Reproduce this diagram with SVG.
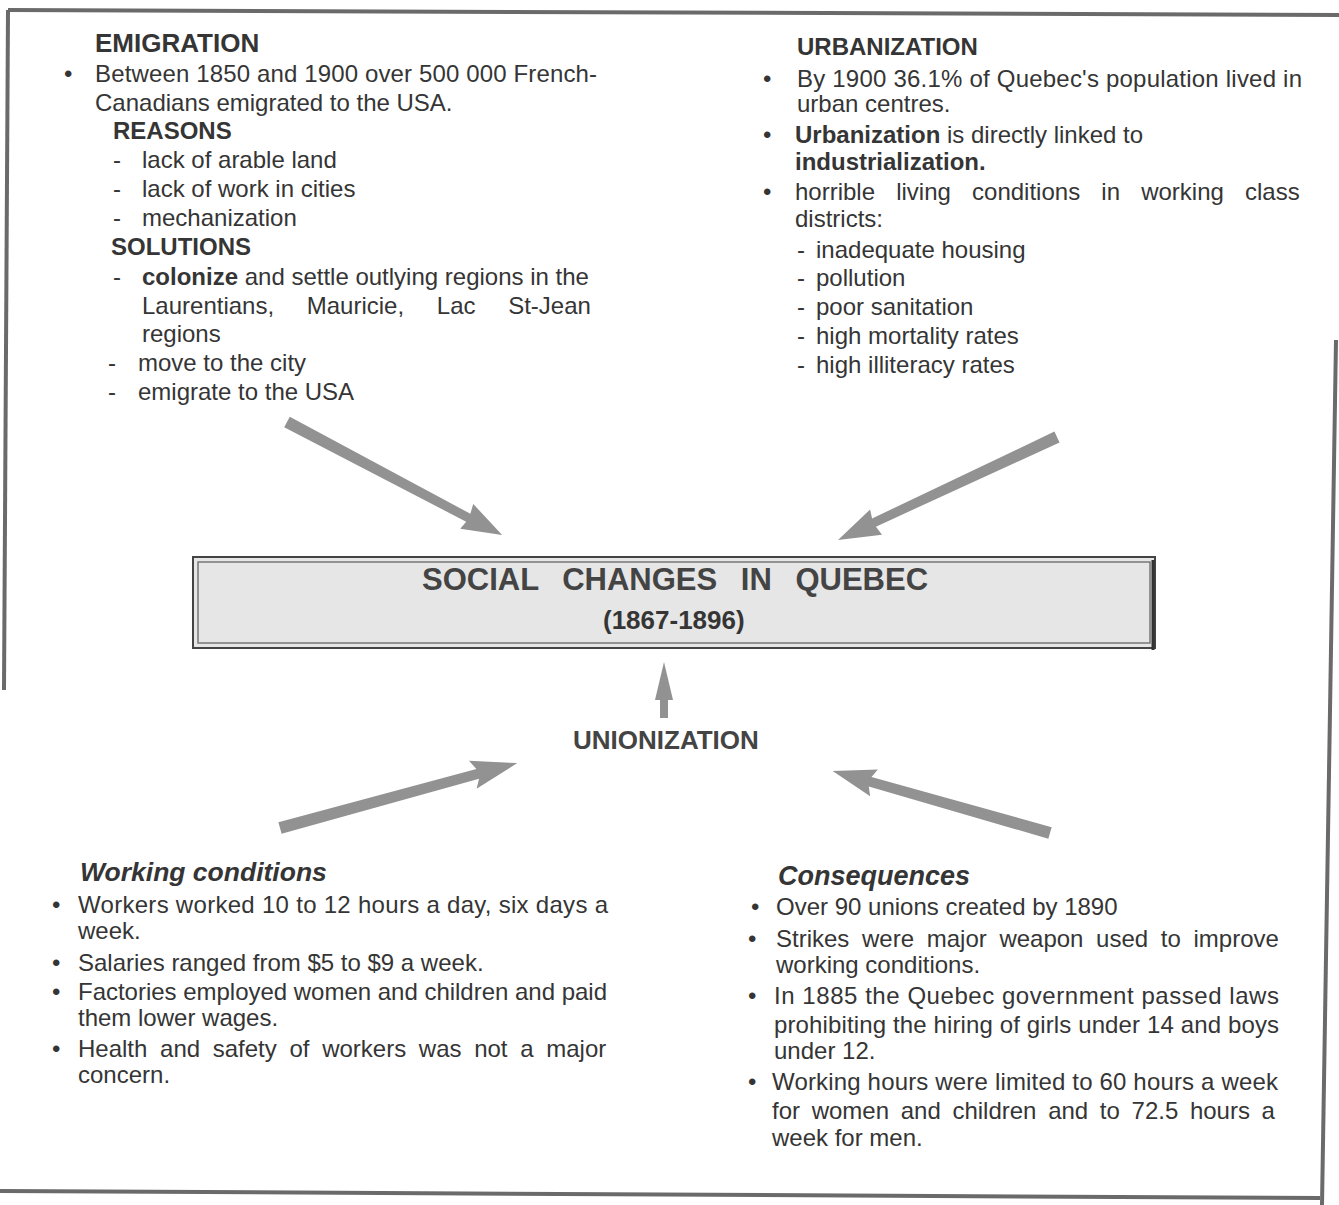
<svg xmlns="http://www.w3.org/2000/svg" width="1339" height="1205" viewBox="0 0 1339 1205">
<style>
.t{font-family:"Liberation Sans",Arial,sans-serif;font-size:24px;fill:#353535}
.b{font-weight:bold}
.bi{font-weight:bold;font-style:italic}
.arrow{fill:#929292}
.frame{stroke:#6a6a6a;stroke-width:4;fill:none}
</style>
<rect width="1339" height="1205" fill="#ffffff"/>
<g id="frame">
<path class="frame" d="M8,10 L1339,15"/>
<path class="frame" d="M8,10 L4,690"/>
<path class="frame" d="M1336,340 L1322,1205"/>
<path class="frame" d="M0,1191 L1320,1198"/>
</g>
<g id="connectors">
<path class="arrow" transform="translate(287,422) rotate(27.7)" d="M0,-6 L205,-4 L203,-14 L243,0 L203,14 L205,5 L0,6 Z"/>
<path class="arrow" transform="translate(1057,437) rotate(154.8)" d="M0,-6 L202,-4 L200,-14 L242,0 L200,14 L202,5 L0,6 Z"/>
<path class="arrow" transform="translate(664,718) rotate(-90)" d="M0,-4 L18,-4 L18,-9 L56,0 L18,9 L18,4 L0,4 Z"/>
<path class="arrow" transform="translate(280,828) rotate(-15.3)" d="M0,-6 L205,-5 L200,-15 L246,0 L200,14 L205,5 L0,6 Z"/>
<path class="arrow" transform="translate(1050,833) rotate(-164.1)" d="M0,-6 L187,-5 L183,-14 L226,0 L183,14 L187,5 L0,6 Z"/>
</g>
<g id="emigration">
<text class="t b" x="95" y="52" style="font-size:26px">EMIGRATION</text>
<text class="t" x="64" y="82">•</text>
<text class="t" x="95" y="82" textLength="502">Between 1850 and 1900 over 500 000 French-</text>
<text class="t" x="95" y="111">Canadians emigrated to the USA.</text>
<text class="t b" x="113" y="139">REASONS</text>
<text class="t" x="113" y="168">-</text>
<text class="t" x="142" y="168">lack of arable land</text>
<text class="t" x="113" y="197">-</text>
<text class="t" x="142" y="197">lack of work in cities</text>
<text class="t" x="113" y="226">-</text>
<text class="t" x="142" y="226">mechanization</text>
<text class="t b" x="111" y="255">SOLUTIONS</text>
<text class="t" x="113" y="285">-</text>
<text class="t" x="142" y="285"><tspan class="b">colonize</tspan> and settle outlying regions in the</text>
<text class="t" x="142" y="314" word-spacing="26">Laurentians, Mauricie, Lac St-Jean</text>
<text class="t" x="142" y="342">regions</text>
<text class="t" x="108" y="371">-</text>
<text class="t" x="138" y="371">move to the city</text>
<text class="t" x="108" y="400">-</text>
<text class="t" x="138" y="400">emigrate to the USA</text>
</g>
<g id="urbanization">
<text class="t b" x="797" y="55">URBANIZATION</text>
<text class="t" x="763" y="87">•</text>
<text class="t" x="797" y="87" textLength="505">By 1900 36.1% of Quebec's population lived in</text>
<text class="t" x="797" y="112">urban centres.</text>
<text class="t" x="763" y="143">•</text>
<text class="t" x="795" y="143"><tspan class="b">Urbanization</tspan> is directly linked to</text>
<text class="t b" x="795" y="170">industrialization.</text>
<text class="t" x="763" y="200">•</text>
<text class="t" x="795" y="200" word-spacing="14.5">horrible living conditions in working class</text>
<text class="t" x="795" y="227">districts:</text>
<text class="t" x="797" y="258">-</text>
<text class="t" x="816" y="258">inadequate housing</text>
<text class="t" x="797" y="286">-</text>
<text class="t" x="816" y="286">pollution</text>
<text class="t" x="797" y="315">-</text>
<text class="t" x="816" y="315">poor sanitation</text>
<text class="t" x="797" y="344">-</text>
<text class="t" x="816" y="344">high mortality rates</text>
<text class="t" x="797" y="373">-</text>
<text class="t" x="816" y="373">high illiteracy rates</text>
</g>
<g id="center">
<rect x="193" y="557" width="962" height="91" fill="#e6e6e6" stroke="#444" stroke-width="2"/>
<rect x="198" y="562" width="952" height="81" fill="none" stroke="#777" stroke-width="1.5"/>
<line x1="1153" y1="560" x2="1153" y2="650" stroke="#333" stroke-width="3"/>
<text class="t b" x="422" y="590" style="font-size:31px;fill:#444" word-spacing="15">SOCIAL CHANGES IN QUEBEC</text>
<text class="t b" x="603" y="629" style="font-size:26px">(1867-1896)</text>
</g>
<g id="unionization">
<text class="t b" x="573" y="749" style="font-size:26px;fill:#444">UNIONIZATION</text>
</g>
<g id="working-conditions">
<text class="t bi" x="80" y="881" style="font-size:26.5px">Working conditions</text>
<text class="t" x="52" y="913">•</text>
<text class="t" x="78" y="913" textLength="530">Workers worked 10 to 12 hours a day, six days a</text>
<text class="t" x="78" y="939">week.</text>
<text class="t" x="52" y="971">•</text>
<text class="t" x="78" y="971">Salaries ranged from $5 to $9 a week.</text>
<text class="t" x="52" y="1000">•</text>
<text class="t" x="78" y="1000" textLength="529">Factories employed women and children and paid</text>
<text class="t" x="78" y="1026">them lower wages.</text>
<text class="t" x="52" y="1057">•</text>
<text class="t" x="78" y="1057" word-spacing="6">Health and safety of workers was not a major</text>
<text class="t" x="78" y="1083">concern.</text>
</g>
<g id="consequences">
<text class="t bi" x="778" y="885" style="font-size:27px">Consequences</text>
<text class="t" x="751" y="915">•</text>
<text class="t" x="776" y="915">Over 90 unions created by 1890</text>
<text class="t" x="748" y="947">•</text>
<text class="t" x="776" y="947" word-spacing="6">Strikes were major weapon used to improve</text>
<text class="t" x="776" y="973">working conditions.</text>
<text class="t" x="748" y="1004">•</text>
<text class="t" x="774" y="1004" textLength="505">In 1885 the Quebec government passed laws</text>
<text class="t" x="774" y="1033" textLength="505">prohibiting the hiring of girls under 14 and boys</text>
<text class="t" x="774" y="1059">under 12.</text>
<text class="t" x="748" y="1090">•</text>
<text class="t" x="772" y="1090" textLength="506">Working hours were limited to 60 hours a week</text>
<text class="t" x="772" y="1119" word-spacing="5">for women and children and to 72.5 hours a</text>
<text class="t" x="772" y="1146">week for men.</text>
</g>
</svg>
